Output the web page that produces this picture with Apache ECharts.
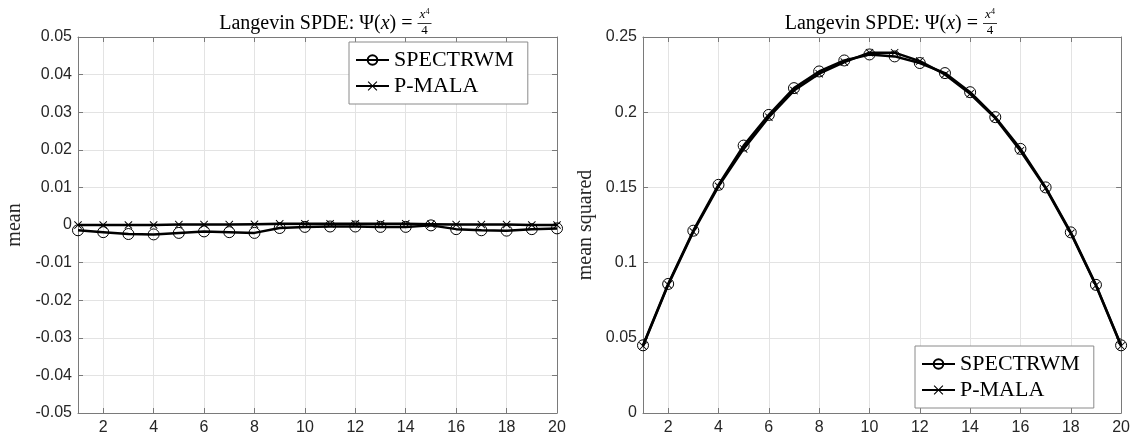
<!DOCTYPE html>
<html>
<head>
<meta charset="utf-8">
<script src="https://cdn.jsdelivr.net/npm/echarts@6/dist/echarts.min.js"></script>
<style>html,body{margin:0;padding:0;background:#fff}#c{width:1133px;height:439px}</style>
</head>
<body>
<div id="c"></div>
<script>
// ---- data ----
const xValues = [1,2,3,4,5,6,7,8,9,10,11,12,13,14,15,16,17,18,19,20];
const xTickLabels = [2,4,6,8,10,12,14,16,18,20];
const meanSpectrwm = [-0.0014,-0.0019,-0.0024,-0.0025,-0.0021,-0.0017,-0.0019,-0.0021,-0.0008,-0.0005,-0.0004,-0.0004,-0.0005,-0.0005,-0.0001,-0.0011,-0.0014,-0.0015,-0.0011,-0.0009];
const meanPmala = [0,0,0,0,0.0001,0.0001,0.0001,0.0002,0.0003,0.0003,0.0003,0.0003,0.0003,0.0003,0.0002,0.0001,0.0001,0.0001,0,0];
const msqSpectrwm = [0.045,0.0858,0.1212,0.1517,0.1778,0.1982,0.216,0.2271,0.2344,0.2384,0.2371,0.2327,0.226,0.2133,0.1967,0.1756,0.15,0.1201,0.0852,0.045];
const msqPmala = [0.0445,0.0852,0.1205,0.1507,0.1756,0.1967,0.2144,0.2256,0.2333,0.2396,0.2396,0.234,0.2251,0.2122,0.196,0.1744,0.1495,0.1195,0.0848,0.0445];
const seriesNames = ['SPECTRWM','P-MALA'];

const pair = (ys) => xValues.map((x,i)=>[x, ys[i]]);
const AX = '#7a7a7a', GRID = '#e3e3e3', TXT = '#262626';
const crossPath = 'path://M0.8,0 L5,4.2 L9.2,0 L10,0.8 L5.8,5 L10,9.2 L9.2,10 L5,5.8 L0.8,10 L0,9.2 L4.2,5 L0,0.8 Z';

function xAxisFor(gi, pos) {
  const main = pos === 'bottom';
  return {
    type:'value', gridIndex:gi, position:pos, min:1, max:20,
    axisLine:{show:true, onZero:false, lineStyle:{color:AX, width:1}},
    axisTick:{show:true, inside:true, length:5, lineStyle:{color:AX}, customValues:xTickLabels},
    axisLabel:{show:main, customValues:xTickLabels, color:TXT, fontFamily:'Liberation Sans', fontSize:16, margin:7},
    splitLine:{show:main, lineStyle:{color:GRID, width:1}}
  };
}
function yAxisFor(gi, pos, min, max, step, name, gap) {
  const main = pos === 'left';
  return {
    type:'value', gridIndex:gi, position:pos, min:min, max:max, interval:step,
    name: main ? name : '', nameLocation:'middle', nameGap:gap, nameRotate:90,
    nameTextStyle:{color:TXT, fontFamily:'Liberation Serif', fontSize:20},
    axisLine:{show:true, onZero:false, lineStyle:{color:AX, width:1}},
    axisTick:{show:true, inside:true, length:5, lineStyle:{color:AX}},
    axisLabel:{show:main, color:TXT, fontFamily:'Liberation Sans', fontSize:16, margin:6},
    splitLine:{show:main, lineStyle:{color:GRID, width:1}}
  };
}
function mkSeries(name, data, xi, yi, isCircle) {
  return {
    type:'line', name:name, data:data, xAxisIndex:xi, yAxisIndex:yi,
    symbol: isCircle ? 'circle' : crossPath,
    symbolSize: isCircle ? 11 : 8,
    showAllSymbol:true, animation:false, z: isCircle ? 2 : 3,
    lineStyle:{color:'#000', width:2.5},
    itemStyle: isCircle ? {color:'rgba(0,0,0,0)', borderColor:'#000', borderWidth:1}
                        : {color:'#000', borderWidth:0},
    emphasis:{disabled:true}
  };
}
function legendFor(left, top) {
  return {
    data: seriesNames, left:left, top:top, orient:'vertical',
    backgroundColor:'#fff', borderColor:'#8a8a8a', borderWidth:1, borderRadius:0,
    padding:[6,14,6,6], itemWidth:33, itemHeight:12, itemGap:2,
    selectedMode:false,
    textStyle:{color:'#000', fontFamily:'Liberation Serif', fontSize:22, lineHeight:24}
  };
}
function titleGraphic(cx) {
  return [
    {type:'text', x: cx + 95, y: 24, z:10,
     style:{text:'Langevin SPDE: Ψ({i|x}) =', align:'right', verticalAlign:'middle', fill:'#000', font:'20px "Liberation Serif"',
            rich:{i:{fontStyle:'italic', fontFamily:'Liberation Serif', fontSize:20}}}},
    {type:'text', x: cx + 107, y: 15, z:10,
     style:{text:'{i|x}{s|4}', align:'center', verticalAlign:'middle', fill:'#000', font:'13px "Liberation Serif"',
            rich:{i:{fontStyle:'italic', fontFamily:'Liberation Serif', fontSize:13}, s:{fontFamily:'Liberation Serif', fontSize:8, verticalAlign:'top', padding:[0,0,6,0]}}}},
    {type:'line', z:10, shape:{x1:cx+100, y1:23.5, x2:cx+114, y2:23.5}, style:{stroke:'#000', lineWidth:0.8}},
    {type:'text', x: cx + 107, y: 31, z:10,
     style:{text:'4', align:'center', verticalAlign:'middle', fill:'#000', font:'13px "Liberation Serif"'}}
  ];
}

const chart = echarts.init(document.getElementById('c'), null, {renderer:'canvas'});
chart.setOption({
  animation:false,
  backgroundColor:'#fff',
  grid:[
    {left:78, right:1133-557, top:37, bottom:439-413},
    {left:643, right:1133-1123, top:37, bottom:439-413}
  ],
  xAxis:[xAxisFor(0,'bottom'), xAxisFor(0,'top'), xAxisFor(1,'bottom'), xAxisFor(1,'top')],
  yAxis:[
    yAxisFor(0,'left',-0.05,0.05,0.01,'mean',53), yAxisFor(0,'right',-0.05,0.05,0.01,'',0),
    yAxisFor(1,'left',0,0.25,0.05,'mean squared',47), yAxisFor(1,'right',0,0.25,0.05,'',0)
  ],
  legend:[legendFor(349,42), legendFor(915,346)],
  graphic: titleGraphic(317.5).concat(titleGraphic(883)),
  series:[
    mkSeries(seriesNames[0], pair(meanSpectrwm), 0, 0, true),
    mkSeries(seriesNames[1], pair(meanPmala), 0, 0, false),
    mkSeries(seriesNames[0], pair(msqSpectrwm), 2, 2, true),
    mkSeries(seriesNames[1], pair(msqPmala), 2, 2, false)
  ]
});
</script>
</body>
</html>
